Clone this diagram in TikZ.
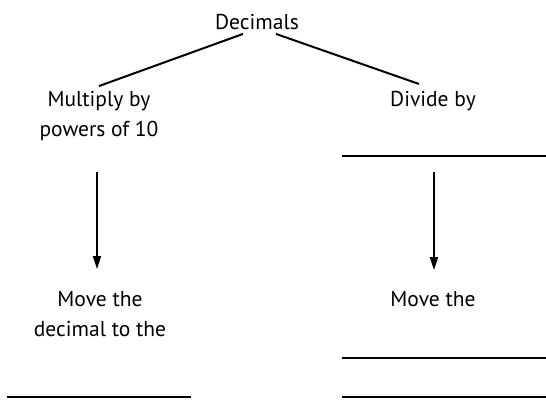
\documentclass[tikz,border=0pt]{standalone}
\usepackage{fontspec}
\setmainfont{PT Sans}
\usetikzlibrary{arrows.meta}

\begin{document}
\begin{tikzpicture}[x=1pt, y=-1pt,
    txt/.style={align=center, inner sep=0pt, font=\fontsize{21.5}{30}\selectfont},
    lnk/.style={line width=2pt},
    blank/.style={line width=2pt},
    arr/.style={line width=1.6pt, -{Triangle[length=13pt, width=8pt]}}]
                    \useasboundingbox (0,0) rectangle (546,399);
                    % Nodes
                    \node[txt] (dec) at (257,22) {Decimals};
                    \node[txt] (mul) at (99,116) {Multiply by\\powers of 10};
                    \node[txt] (div) at (433,101) {Divide by};
                    \node[txt] (mov1) at (100,314) {Move the\\decimal to the};
                    \node[txt] (mov2) at (433,299) {Move the};
                    % Blanks
                    \coordinate (b1a) at (342,156);
                    \coordinate (b1b) at (546,156);
                    \coordinate (b2a) at (342,358);
                    \coordinate (b2b) at (546,358);
                    \coordinate (b3a) at (342,397);
                    \coordinate (b3b) at (546,397);
                    \coordinate (b4a) at (7,397);
                    \coordinate (b4b) at (191,397);
                    % Arrow starts
                    \coordinate (s1) at (97,172);
                    \coordinate (s2) at (434,172);
                    % Edges
                    \draw[lnk] ([xshift=-14pt, yshift=-4pt]dec.south) -- ([yshift=5pt]mul.north);
                    \draw[lnk] ([xshift=19pt, yshift=-4pt]dec.south) -- ([xshift=-14pt, yshift=7pt]div.north);
                    \draw[arr] (s1) -- ([xshift=-3pt, yshift=22pt]mov1.north);
                    \draw[arr] (s2) -- ([xshift=1pt, yshift=21pt]mov2.north);
                    \draw[blank] (b1a) -- (b1b);
                    \draw[blank] (b2a) -- (b2b);
                    \draw[blank] (b3a) -- (b3b);
                    \draw[blank] (b4a) -- (b4b);
\end{tikzpicture}
\end{document}
